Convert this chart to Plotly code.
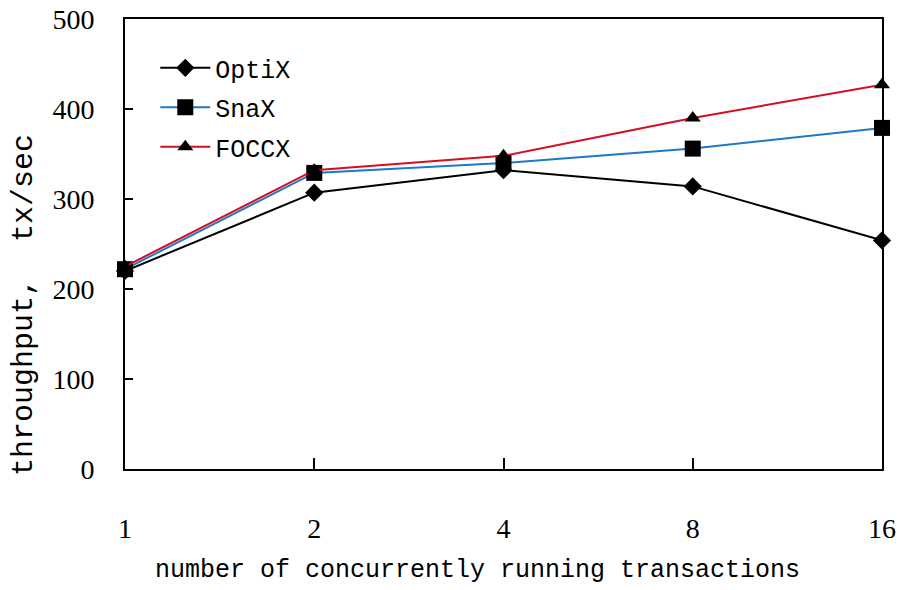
import plotly.graph_objects as go

threads = [1, 2, 4, 8, 16]
tick_labels = ["1", "2", "4", "8", "16"]
optix = [220, 307, 332, 314, 254]
snax = [222, 329, 340, 356, 379]
foccx = [225, 332, 348, 390, 427]
y_ticks = [0, 100, 200, 300, 400, 500]

mono = "Liberation Mono"
serif = "Liberation Serif"

fig = go.Figure()
series = [
    ("OptiX", optix, "#000000", "diamond", 14),
    ("SnaX", snax, "#1f78c8", "square", 16),
    ("FOCCX", foccx, "#d01020", "triangle-up", 14),
]
for i, (name, vals, col, sym, sz) in enumerate(series):
    fig.add_trace(go.Scatter(
        x=threads, y=vals, name=name, mode="lines+markers",
        line=dict(color=col, width=2),
        marker=dict(symbol=sym, size=sz, color="#000000"),
        cliponaxis=False, legendgroup=name,
    ))

fig.update_layout(
    width=900, height=590,
    margin=dict(l=125, r=18, t=19, b=121),
    plot_bgcolor="white", paper_bgcolor="white",
    showlegend=True,
    legend=dict(
        x=0.04, y=0.942, xanchor="left", yanchor="top",
        font=dict(family=mono, size=25, color="#000"),
        bgcolor="rgba(0,0,0,0)", tracegroupgap=4,
        itemwidth=50,
    ),
    font=dict(family=mono, color="#000"),
)
fig.update_xaxes(
    type="log", range=[0, 1.20412], tickvals=threads, ticktext=tick_labels,
    ticks="inside", ticklen=11, tickwidth=1.5, tickcolor="#000",
    showline=True, linecolor="#000", linewidth=2, mirror=True,
    showgrid=False, zeroline=False, automargin=False,
    tickfont=dict(family=serif, size=28, color="#000"),
    ticklabelstandoff=33, ticklabeloverflow="allow",
)
fig.update_yaxes(
    range=[0, 500], tickvals=y_ticks,
    ticks="inside", ticklen=8, tickwidth=1.5, tickcolor="#000",
    showline=True, linecolor="#000", linewidth=2, mirror=True,
    showgrid=False, zeroline=False, automargin=False,
    tickfont=dict(family=serif, size=28, color="#000"),
    ticklabelstandoff=23, ticklabeloverflow="allow",
)
fig.add_annotation(
    text="number of concurrently running transactions",
    xref="paper", yref="paper", x=(477 - 125) / 757, y=-(570 - 469) / 450,
    xanchor="center", yanchor="middle", showarrow=False,
    font=dict(family=mono, size=25, color="#000"),
)
fig.add_annotation(
    text="throughput,  tx/sec",
    xref="paper", yref="paper", x=-(125 - 24) / 757, y=(469 - 305) / 450,
    xanchor="center", yanchor="middle", showarrow=False, textangle=-90,
    font=dict(family=mono, size=30, color="#000"),
)

fig.write_html(
    "out.html",
    config={"displayModeBar": False},
    post_script="document.body.style.margin='0';",
)
